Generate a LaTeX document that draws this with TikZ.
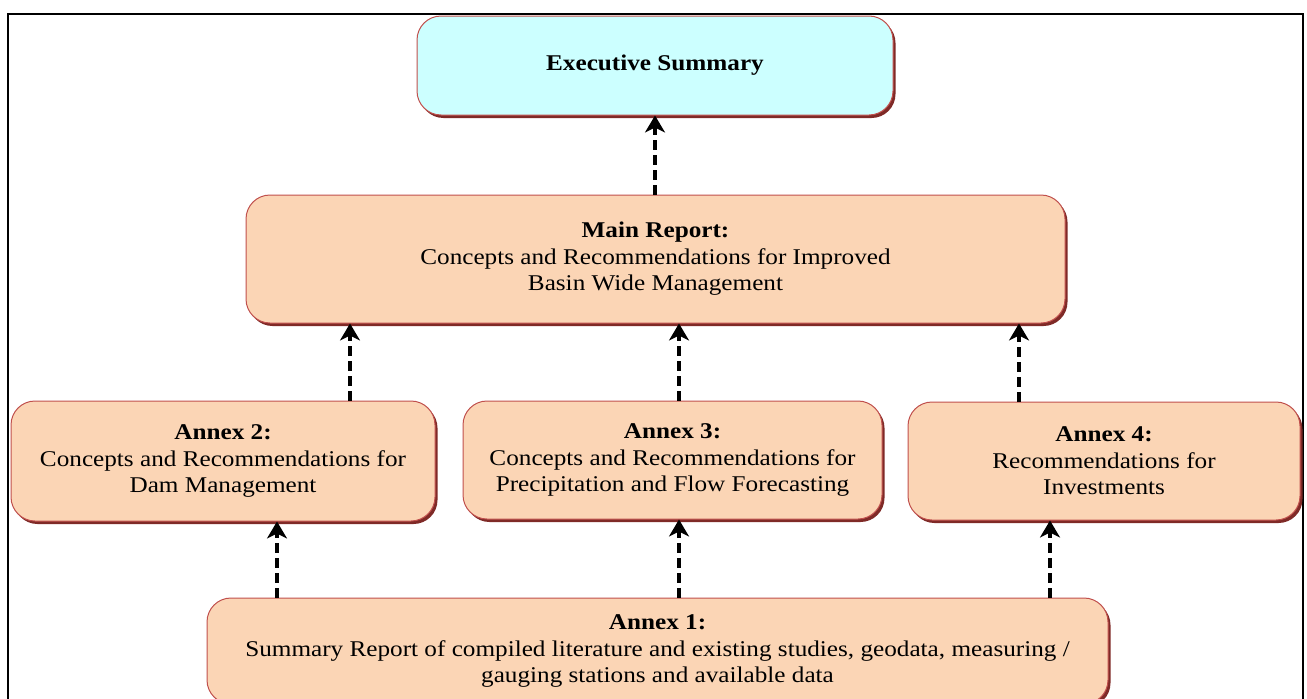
\documentclass[tikz,border=0pt]{standalone}
\usepackage{fontspec}
\setmainfont[FakeStretch=1.12]{Liberation Serif}
\usetikzlibrary{shadows,arrows.meta}
\definecolor{peach}{HTML}{FBD5B5}
\definecolor{cyanfill}{HTML}{CCFFFF}
\definecolor{edge}{HTML}{C0504D}
\definecolor{shade}{HTML}{7F2A27}
\tikzset{
  box/.style={draw=edge, line width=1pt, fill=peach, rounded corners=24pt,
    align=center, font=\fontsize{22.5}{26.5}\selectfont, inner sep=0pt,
    drop shadow={shadow xshift=2.5pt, shadow yshift=-3pt, fill=shade, opacity=1}},
  link/.style={line width=3.5pt, dash pattern=on 10pt off 5pt,
    -{Stealth[length=17pt,width=20pt,inset=5pt]}}
}
\begin{document}
\begin{tikzpicture}[x=1pt,y=-1pt]
\useasboundingbox (0,0) rectangle (1307,699);
\draw[line width=1.5pt] (8,699) -- (8,14) -- (1303,14) -- (1303,699);
\node[box, fill=cyanfill, minimum width=476pt, minimum height=99pt] (exec) at (655,65.5) {\textbf{Executive Summary}};
\node[box, minimum width=819pt, minimum height=128pt] (main) at (655.5,259) {\textbf{Main Report:}\\Concepts and Recommendations for Improved\\Basin Wide Management};
\node[box, minimum width=424pt, minimum height=120pt] (a2) at (223,461) {\textbf{Annex 2:}\\Concepts and Recommendations for\\Dam Management};
\node[box, minimum width=419pt, minimum height=118pt] (a3) at (672.5,460) {\textbf{Annex 3:}\\Concepts and Recommendations for\\Precipitation and Flow Forecasting};
\node[box, minimum width=392pt, minimum height=118pt] (a4) at (1104,461) {\textbf{Annex 4:}\\Recommendations for\\Investments};
\node[box, minimum width=901pt, minimum height=106pt] (a1) at (657.5,651) {\textbf{Annex 1:}\\Summary Report of compiled literature and existing studies, geodata, measuring /\\gauging stations and available data};
\coordinate (m1) at (350,323); \coordinate (m2) at (679,323); \coordinate (m3) at (1019,323);
\coordinate (e1) at (655,115);
\draw[link] (main.north -| e1) -- (exec.south -| e1);
\draw[link] (a2.north -| m1) -- (main.south -| m1);
\draw[link] (a3.north -| m2) -- (main.south -| m2);
\draw[link] (a4.north -| m3) -- (main.south -| m3);
\coordinate (b1) at (277,0); \coordinate (b2) at (679,0); \coordinate (b3) at (1050,0);
\draw[link] (a1.north -| b1) -- (a2.south -| b1);
\draw[link] (a1.north -| b2) -- (a3.south -| b2);
\draw[link] (a1.north -| b3) -- (a4.south -| b3);
\end{tikzpicture}
\end{document}
